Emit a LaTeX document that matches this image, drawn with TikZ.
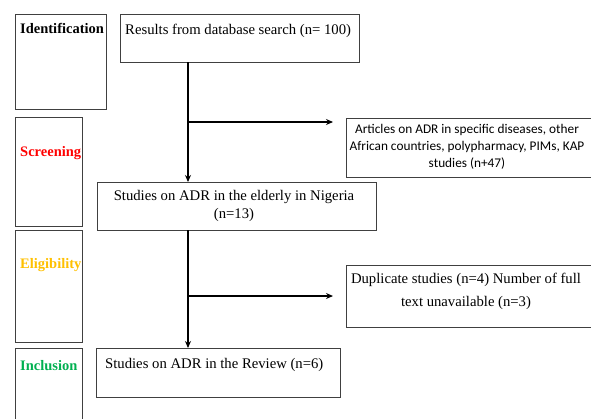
\documentclass[tikz,border=0pt]{standalone}
\usepackage{fontspec}
\setmainfont{Liberation Serif}
\newfontfamily\calib{Carlito}
\usetikzlibrary{arrows.meta}
\definecolor{eligold}{HTML}{FFC000}
\definecolor{incgreen}{HTML}{00B050}
\definecolor{boxgray}{HTML}{404040}
\begin{document}
\begin{tikzpicture}[x=1pt,y=-1pt,
  frame/.style={draw=boxgray,line width=0.9pt,anchor=north west,inner sep=0pt},
  txt/.style={inner sep=0pt,font=\fontsize{14.7}{18}\selectfont},
  lab/.style={inner sep=0pt,anchor=base west,font=\fontsize{14.5}{16}\selectfont\bfseries},
  conn/.style={line width=1.5pt,black},
  arr/.style={conn,-{Stealth[length=7pt,width=6pt]}}]
\useasboundingbox (0,0) rectangle (591,418);
% stage boxes
\node[frame,minimum width=91,minimum height=95] (idbox) at (15,14) {};
\node[frame,minimum width=67,minimum height=109] (scrbox) at (15,117) {};
\node[frame,minimum width=67,minimum height=112] (elibox) at (15,230) {};
\node[frame,minimum width=67,minimum height=80] (incbox) at (15,348) {};
\node[lab] (idlab) at (20,33) {Identification};
\node[lab,text=red] (scrlab) at (20,156) {Screening};
\node[lab,text=eligold] (elilab) at (20,268) {Eligibility};
\node[lab,text=incgreen] (inclab) at (20,370) {Inclusion};
% flow boxes
\node[frame,minimum width=239,minimum height=48] (results) at (120,14) {};
\node[txt,anchor=base west] (restxt) at (125,34) {Results from database search (n= 100)};
\node[frame,minimum width=279,minimum height=48] (elderly) at (97,182) {};
\node[txt,align=center,anchor=north] (eldtxt) at (234,190) {Studies on ADR in the elderly in Nigeria\\(n=13)};
\node[frame,minimum width=244,minimum height=49] (review) at (96,348) {};
\node[txt,anchor=base west] (revtxt) at (105,368) {Studies on ADR in the Review (n=6)};
\node[frame,minimum width=245,minimum height=59] (articles) at (346,118) {};
\node[txt,align=center,anchor=north,font=\calib\fontsize{13.3}{17}\selectfont] (arttxt) at (467,124)
  {Articles on ADR in specific diseases, other\\African countries, polypharmacy, PIMs, KAP\\studies (n+47)};
\node[frame,minimum width=245,minimum height=62] (dups) at (346,265) {};
\node[txt,align=center,anchor=north,font=\fontsize{14.7}{23}\selectfont] (duptxt) at (466,273)
  {Duplicate studies (n=4) Number of full\\text unavailable (n=3)};
% connectors
\coordinate (top1) at (188,62);
\coordinate (br1) at (188,122);
\coordinate (top2) at (188,230);
\coordinate (br2) at (188,296);
\draw[arr] (top1) -- (top1 |- elderly.north);
\draw[arr,shorten >=13pt] (br1) -- (br1 -| articles.west);
\draw[arr] (top2) -- (top2 |- review.north);
\draw[arr,shorten >=13pt] (br2) -- (br2 -| dups.west);
\end{tikzpicture}
\end{document}
